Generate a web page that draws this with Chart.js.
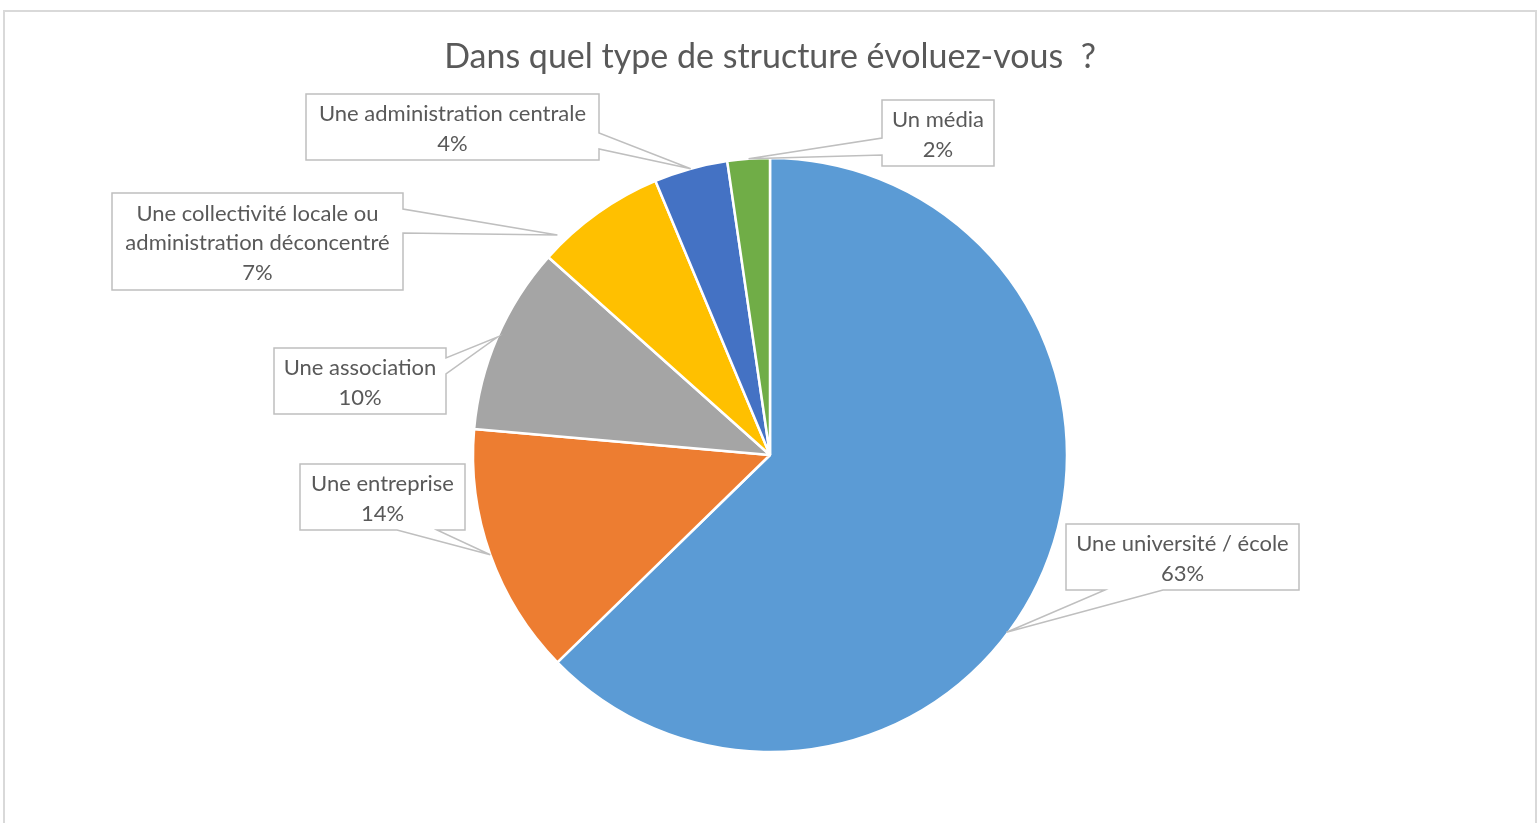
<!DOCTYPE html>
<html>
<head>
<meta charset="utf-8">
<script src="https://cdn.jsdelivr.net/npm/chart.js@4/dist/chart.umd.min.js"></script>
<style>
  html, body { margin: 0; padding: 0; background: #ffffff; overflow: hidden; }
  #frame { position: absolute; left: 3px; top: 10px; width: 1530px; height: 900px; border: 2px solid #d9d9d9; }
  #c { position: absolute; left: 0; top: 0; }
</style>
</head>
<body>
<div id="frame"></div>
<canvas id="c" width="1539" height="823"></canvas>
<script>
// ---- data ----
const chartTitle = "Dans quel type de structure évoluez-vous  ?";
const categories = [
  ["Une université / école"],
  ["Une entreprise"],
  ["Une association"],
  ["Une collectivité locale ou", "administration déconcentré"],
  ["Une administration centrale"],
  ["Un média"]
];
const shares = [62.7, 13.7, 10.2, 7.1, 4.0, 2.3];
const sliceColors = ["#5B9BD5", "#ED7D31", "#A5A5A5", "#FFC000", "#4472C4", "#70AD47"];

// ---- callout layout (positions only) ----
// tipAt: fraction along the slice angle, tipR: fraction of outer radius
const calloutBoxes = [
  { x: 1066, y: 524, w: 233, h: 66, side: "bottom", a1: 1105, a2: 1163, tipAt: 0.562, tipR: 0.995 },
  { x: 300,  y: 464, w: 165, h: 66, side: "bottom", a1: 397,  a2: 437,  tipAt: 0.5,   tipR: 1.0 },
  { x: 274,  y: 348, w: 172, h: 66, side: "right",  a1: 358,  a2: 374,  tipAt: 0.5,   tipR: 1.0 },
  { x: 112,  y: 193, w: 291, h: 97, side: "right",  a1: 209,  a2: 233,  tipAt: 0.165, tipR: 1.03 },
  { x: 306,  y: 94,  w: 293, h: 66, side: "right",  a1: 133,  a2: 149,  tipAt: 0.5,   tipR: 1.0 },
  { x: 882,  y: 100, w: 112, h: 66, side: "left",   a1: 138,  a2: 155,  tipAt: 0.5,   tipR: 1.0 }
];

const textColor = "#595959";
const labelFont = "22px Lato, 'Open Sans', sans-serif";
const titleFont = "34px Lato, 'Open Sans', sans-serif";

const calloutPlugin = {
  id: "callouts",
  afterDraw(chart) {
    const ctx = chart.ctx;
    const meta = chart.getDatasetMeta(0);
    const data = chart.data.datasets[0].data;
    const total = data.reduce((a, b) => a + b, 0);
    meta.data.forEach((arc, i) => {
      const b = calloutBoxes[i];
      const p = arc.getProps(["x", "y", "startAngle", "endAngle", "outerRadius"], true);
      const ang = p.startAngle + (p.endAngle - p.startAngle) * b.tipAt;
      const tx = p.x + Math.cos(ang) * p.outerRadius * b.tipR;
      const ty = p.y + Math.sin(ang) * p.outerRadius * b.tipR;
      ctx.save();
      ctx.beginPath();
      if (b.side === "right") {
        ctx.moveTo(b.x, b.y);
        ctx.lineTo(b.x + b.w, b.y);
        ctx.lineTo(b.x + b.w, b.a1);
        ctx.lineTo(tx, ty);
        ctx.lineTo(b.x + b.w, b.a2);
        ctx.lineTo(b.x + b.w, b.y + b.h);
        ctx.lineTo(b.x, b.y + b.h);
      } else if (b.side === "left") {
        ctx.moveTo(b.x, b.y);
        ctx.lineTo(b.x + b.w, b.y);
        ctx.lineTo(b.x + b.w, b.y + b.h);
        ctx.lineTo(b.x, b.y + b.h);
        ctx.lineTo(b.x, b.a2);
        ctx.lineTo(tx, ty);
        ctx.lineTo(b.x, b.a1);
      } else {
        ctx.moveTo(b.x, b.y);
        ctx.lineTo(b.x + b.w, b.y);
        ctx.lineTo(b.x + b.w, b.y + b.h);
        ctx.lineTo(b.a2, b.y + b.h);
        ctx.lineTo(tx, ty);
        ctx.lineTo(b.a1, b.y + b.h);
        ctx.lineTo(b.x, b.y + b.h);
      }
      ctx.closePath();
      ctx.fillStyle = "#ffffff";
      ctx.fill();
      ctx.lineWidth = 1.5;
      ctx.strokeStyle = "#bfbfbf";
      ctx.lineJoin = "miter";
      ctx.stroke();

      const lines = chart.data.labels[i].concat([Math.round(data[i] / total * 100) + "%"]);
      const lh = lines.length > 2 ? 29.5 : 30;
      const cx = b.x + b.w / 2;
      const cy = b.y + b.h / 2 + 1.5;
      ctx.fillStyle = textColor;
      ctx.font = labelFont;
      ctx.textAlign = "center";
      ctx.textBaseline = "middle";
      lines.forEach((t, k) => {
        ctx.fillText(t, cx, cy + (k - (lines.length - 1) / 2) * lh);
      });
      ctx.restore();
    });

    // title
    ctx.save();
    ctx.fillStyle = textColor;
    ctx.font = titleFont;
    ctx.textAlign = "center";
    ctx.textBaseline = "middle";
    ctx.fillText(chartTitle, 770, 57);
    ctx.restore();
  }
};

new Chart(document.getElementById("c"), {
  type: "pie",
  data: {
    labels: categories,
    datasets: [{
      data: shares,
      backgroundColor: sliceColors,
      borderColor: "#ffffff",
      borderWidth: 2.5,
      radius: 297
    }]
  },
  options: {
    responsive: false,
    animation: false,
    devicePixelRatio: 1,
    layout: { padding: { left: 11, right: 10, top: 158, bottom: 71 } },
    plugins: {
      legend: { display: false },
      tooltip: { enabled: false },
      title: { display: false }
    }
  },
  plugins: [calloutPlugin]
});
</script>
</body>
</html>
